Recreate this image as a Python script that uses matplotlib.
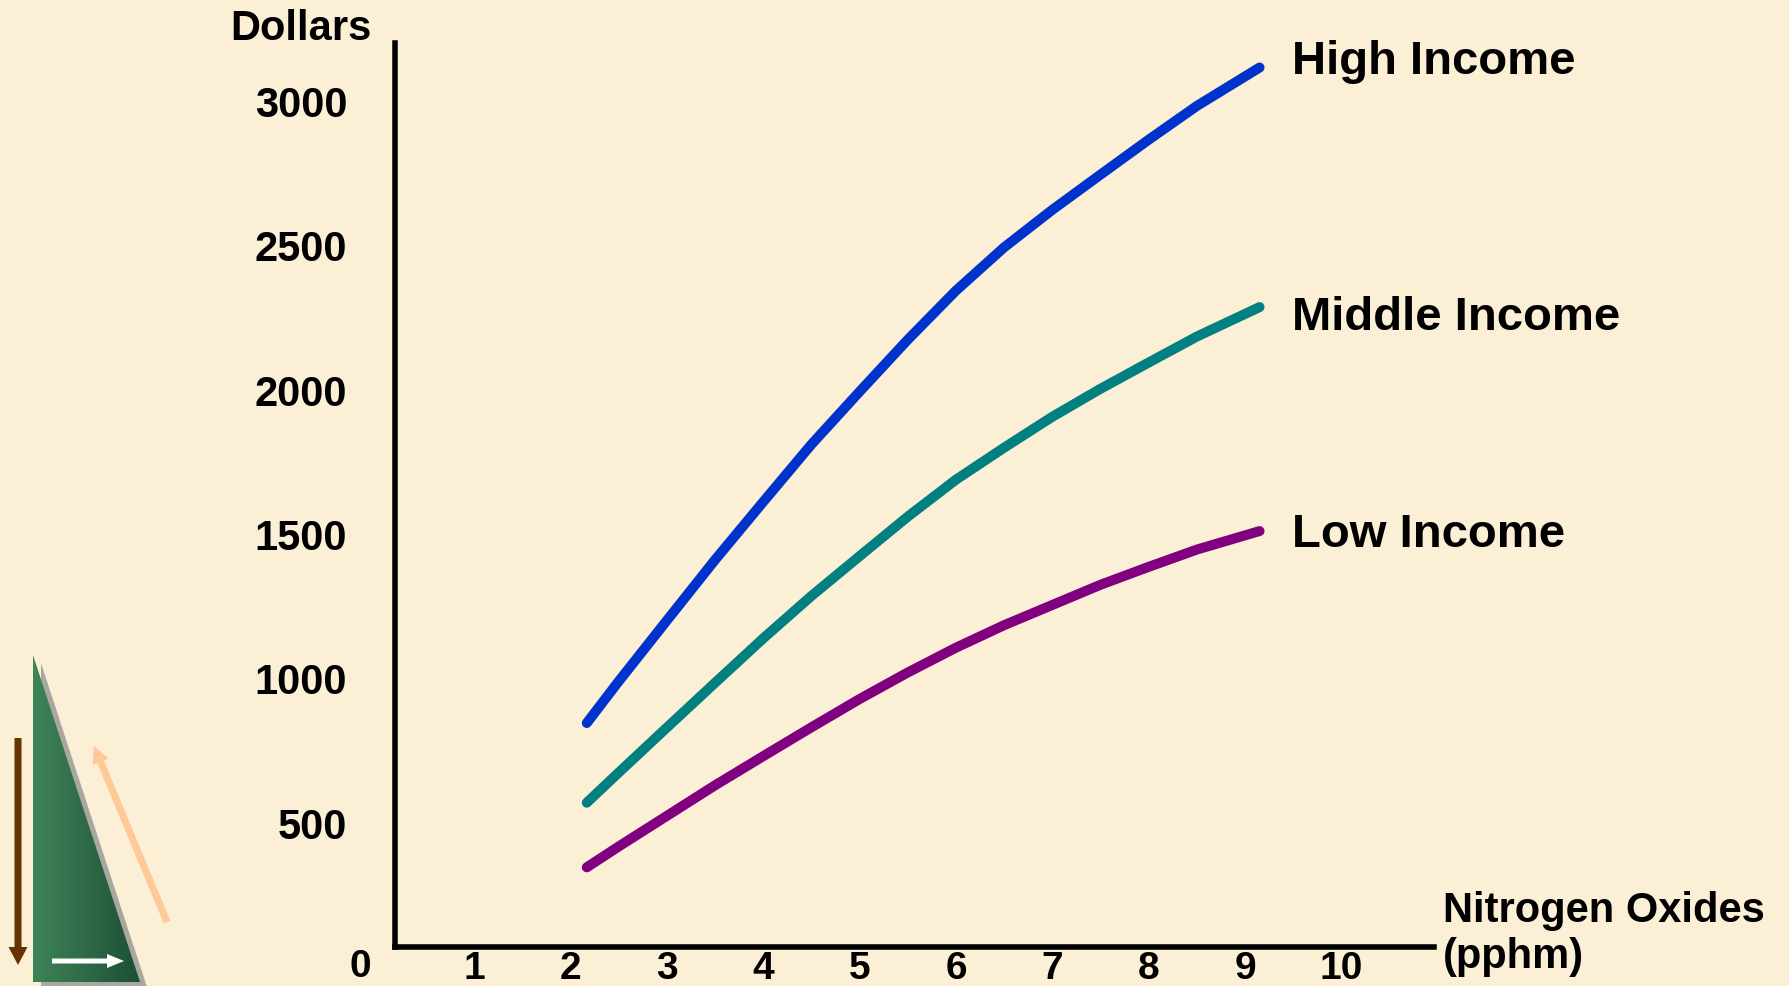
import matplotlib
matplotlib.use("Agg")
import matplotlib.pyplot as plt
import numpy as np
from matplotlib.patches import Polygon, FancyArrow

plt.rcParams["font.family"] = "Liberation Sans"
plt.rcParams["font.weight"] = "bold"

# damage in dollars vs nitrogen oxides concentration, by income group
nox = [2.17, 2.5, 3, 3.5, 4, 4.5, 5, 5.5, 6, 6.5, 7, 7.5, 8, 8.5, 9.15]
high_income = [847, 991, 1202, 1412, 1613, 1812, 1995, 2175, 2345, 2495,
               2625, 2747, 2868, 2985, 3118]
middle_income = [571, 675, 831, 986, 1140, 1287, 1425, 1562, 1690, 1801,
                 1908, 2005, 2096, 2186, 2288]
low_income = [347, 419, 525, 631, 732, 832, 930, 1022, 1108, 1186,
              1256, 1326, 1388, 1448, 1512]

series = [
    ("High Income", high_income, "#0033cc", 3096),
    ("Middle Income", middle_income, "#008080", 2209),
    ("Low Income", low_income, "#800080", 1457),
]

x_ticks = [1, 2, 3, 4, 5, 6, 7, 8, 9, 10]
y_ticks = [500, 1000, 1500, 2000, 2500, 3000]

bg = "#fbefd6"
W, H = 1789, 986
fig = plt.figure(figsize=(W / 100, H / 100), dpi=100, facecolor=bg)

# pixel-space layer for the corner graphic and axis titles
deco = fig.add_axes([0, 0, 1, 1], zorder=0)
deco.axis("off")

# triangle with drop shadow and green gradient
deco.add_patch(Polygon([(41, 663), (41, 990), (148, 990)], closed=True,
                       facecolor="#a8a8a0", edgecolor="none", zorder=1))
tri = Polygon([(33, 655), (33, 982), (140, 982)], closed=True,
              facecolor="none", edgecolor="none", zorder=2)
deco.add_patch(tri)
grad = np.linspace(0, 1, 256).reshape(1, -1)
cmap = matplotlib.colors.LinearSegmentedColormap.from_list(
    "g", ["#3f8458", "#2e6a47", "#1d4f34"])
img = deco.imshow(grad, extent=(33, 140, 982, 655), cmap=cmap,
                  aspect="auto", zorder=2)
img.set_clip_path(tri)
deco.set_xlim(0, W)
deco.set_ylim(H, 0)

arrow_kw = dict(length_includes_head=True, lw=0, zorder=3)
deco.add_patch(FancyArrow(18, 738, 0, 227, width=7, head_width=19,
                          head_length=18, color="#663300", **arrow_kw))
deco.add_patch(FancyArrow(167, 922, -73, -176, width=7, head_width=17,
                          head_length=17, color="#ffc896", **arrow_kw))
deco.add_patch(FancyArrow(52, 961, 72, 0, width=5, head_width=14,
                          head_length=17, color="white", **arrow_kw))

deco.text(230, 40, "Dollars", fontsize=30, ha="left", va="baseline")
deco.text(1443, 922, "Nitrogen Oxides", fontsize=30, ha="left", va="baseline")
deco.text(1443, 968, "(pphm)", fontsize=30, ha="left", va="baseline")
deco.text(360, 985, "0", fontsize=28, ha="center", va="bottom")

# main chart
ax = fig.add_axes([394.5 / W, (H - 947) / H, (1434 - 394.5) / W, (947 - 43) / H],
                  zorder=1)
ax.set_facecolor("none")
ax.set_xlim(0.175, 10.96)
ax.set_ylim(71, 3203)
for side in ["top", "right"]:
    ax.spines[side].set_visible(False)
for side in ["left", "bottom"]:
    ax.spines[side].set_linewidth(4)
    ax.spines[side].set_color("black")

ax.set_xticks(x_ticks)
ax.set_xticklabels([str(t) for t in x_ticks])
ax.set_yticks(y_ticks)
ax.set_yticklabels([str(t) for t in y_ticks])
ax.tick_params(axis="x", length=0, pad=3, labelsize=28)
ax.tick_params(axis="y", length=0, pad=34, labelsize=30)

for name, vals, color, label_y in series:
    ax.plot(nox, vals, color=color, lw=7.2, solid_capstyle="round",
            solid_joinstyle="round")
    ax.text(9.49, label_y, name, fontsize=34, ha="left", va="baseline")

fig.savefig("out.png", dpi=100, facecolor=bg)
